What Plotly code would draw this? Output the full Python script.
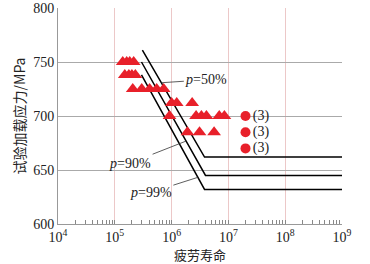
import plotly.graph_objects as go
import numpy as np

# S-N curves
p50_x = [3.06e5, 3.8e6, 1e9]
p50_y = [761, 662, 662]
p90_x = [2.95e5, 3.95e6, 1e9]
p90_y = [750, 645, 645]
p99_x = [2.95e5, 3.8e6, 1e9]
p99_y = [738, 632, 632]

# failed specimens (triangles)
tri_x = [1.38e5, 1.62e5, 1.83e5, 2.15e5,
         1.5e5, 1.77e5, 2.0e5, 2.3e5,
         2.07e5, 2.98e5, 4.1e5, 5.46e5, 7.25e5,
         1.0e6, 1.23e6, 2.3e6,
         9.2e5, 2.7e6, 3.35e6, 4.1e6, 6.9e6, 8.5e6,
         1.9e6, 3.1e6, 5.6e6]
tri_y = [750, 750, 750, 750,
         738, 738, 738, 738,
         725, 725, 725, 725, 725,
         712, 712, 712,
         700, 700, 700, 700, 700, 700,
         685, 685, 685]

# run-outs (circles)
run_x = [2e7, 2e7, 2e7]
run_y = [700, 685, 670]
run_lbl = ["(3)", "(3)", "(3)"]

x_major = [1e4, 1e5, 1e6, 1e7, 1e8, 1e9]
x_major_txt = ["10<sup>4</sup>", "10<sup>5</sup>", "10<sup>6</sup>", "10<sup>7</sup>", "10<sup>8</sup>", "10<sup>9</sup>"]
y_ticks = [600, 650, 700, 750, 800]

serif = "Liberation Serif, Times New Roman, serif"
red = "#e8202a"

fig = go.Figure()
for xs, ys in [(p50_x, p50_y), (p90_x, p90_y), (p99_x, p99_y)]:
    fig.add_trace(go.Scatter(x=xs, y=ys, mode="lines",
                             line=dict(color="black", width=1.5), showlegend=False, hoverinfo="skip"))

fig.add_trace(go.Scatter(x=tri_x, y=tri_y, mode="markers",
                         marker=dict(symbol="triangle-up", size=12, color=red, line=dict(width=0)),
                         showlegend=False))
fig.add_trace(go.Scatter(x=run_x, y=run_y, mode="markers+text", text=run_lbl,
                         textposition="middle right",
                         textfont=dict(family=serif, size=14, color="#222"),
                         marker=dict(symbol="circle", size=10, color=red),
                         showlegend=False))

def on_curve(xs, ys, xq):
    return float(np.interp(np.log10(xq), np.log10(xs), ys))

labels = [
    (p50_x, p50_y, 6.6e5, "<i>p</i>=50%", 45, -3),
    (p90_x, p90_y, 1.8e6, "<i>p</i>=90%", -56, 22),
    (p99_x, p99_y, 2.9e6, "<i>p</i>=99%", -47, 15),
]
for xs, ys, xq, txt, ax, ay in labels:
    fig.add_annotation(x=np.log10(xq), y=on_curve(xs, ys, xq), text=txt,
                       showarrow=True, arrowhead=0, arrowwidth=0.8, arrowcolor="#333",
                       ax=ax, ay=ay, xanchor="center", yanchor="middle",
                       font=dict(family=serif, size=14, color="#222"))

fig.update_layout(
    width=370, height=264,
    margin=dict(l=58, r=28, t=8, b=40, autoexpand=False),
    paper_bgcolor="white", plot_bgcolor="white",
    font=dict(family=serif, size=14, color="#222"),
)
fig.update_xaxes(type="log", range=[4, 9], automargin=False,
                 tickvals=x_major, ticktext=x_major_txt,
                 ticks="inside", ticklen=4, tickcolor="#888",
                 showgrid=True, gridcolor="#ecc8c8", gridwidth=1,
                 showline=True, linecolor="#999", linewidth=1, mirror=False,
                 minor=dict(tickvals=[m * 10 ** d for d in range(4, 9) for m in range(2, 10)],
                            ticks="inside", ticklen=4, tickcolor="#888", showgrid=False),
                 title=dict(text="疲劳寿命", font=dict(family="Noto Sans CJK SC", size=13), standoff=2),
                 zeroline=False)
fig.update_yaxes(range=[600, 800], tickvals=y_ticks, ticks="", automargin=False,
                 showgrid=True, gridcolor="#aaaaaa", gridwidth=1,
                 showline=True, linecolor="#999", linewidth=1,
                 title=dict(text="试验加载应力/MPa", font=dict(family="Noto Sans CJK SC", size=14), standoff=4),
                 zeroline=False)
fig.write_html("out.html", config={"displayModeBar": False},
               post_script="document.body.style.margin='0';")
